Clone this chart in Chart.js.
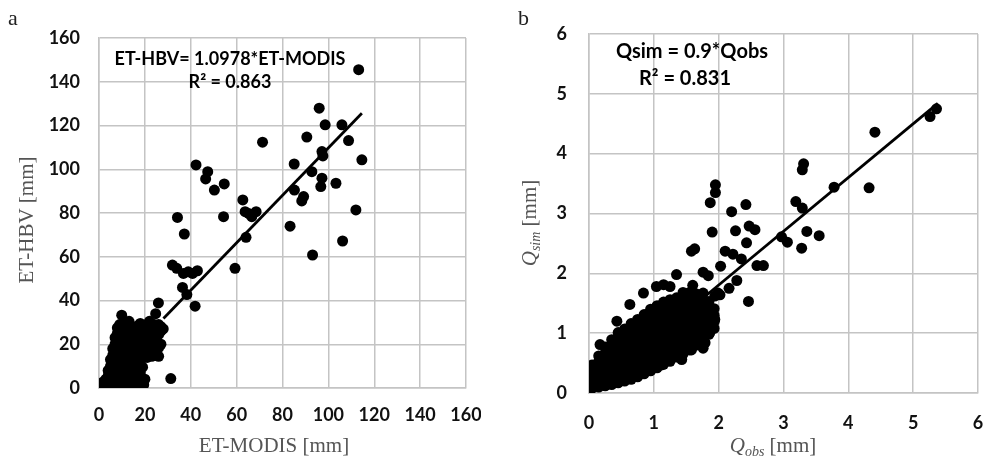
<!DOCTYPE html>
<html>
<head>
<meta charset="utf-8">
<script src="https://cdn.jsdelivr.net/npm/chart.js"></script>
<style>
  html, body { margin: 0; padding: 0; background: #fff; }
  #wrapA { position: absolute; left: 0; top: 0; }
  #wrapB { position: absolute; left: 490px; top: 0; }
</style>
</head>
<body>
<div id="wrapA"><canvas id="chartA" width="481" height="459"></canvas></div>
<div id="wrapB"><canvas id="chartB" width="496" height="459"></canvas></div>
<script>
// ---- panel a: ET-MODIS vs ET-HBV (mm) ----
var etScatter = [
  [113.2,145.5],[96,127.9],[98.6,120.3],[105.9,120.3],[108.8,113.1],[71.3,112.4],[90.6,114.7],
  [114.6,104.3],[97.6,106.1],[97.2,108.1],[85.1,102.4],[92.8,98.9],[97.2,95.9],[96.7,92.1],
  [103.3,93.6],[85.2,90.5],[89.2,87.5],[88.4,85.5],[112,81.4],[83.3,74],[106.2,67.2],[93.1,60.8],
  [42.3,102],[47.4,98.9],[46.5,95.6],[50.3,90.5],[54.6,93.3],[54.3,78.3],[34.2,78],[37.2,70.4],
  [62.7,86],[63.7,80.6],[65.2,79.8],[66.6,78.3],[68.5,80.6],[64.1,68.9],[59.3,54.7],
  [32,56.2],[33.9,54.7],[36.8,52.4],[38.9,53.1],[40.8,52.4],[42.9,53.6],[36.4,46],[38.3,42.7],
  [41.9,37.4],[31.3,4.3],[25.9,38.9],[24.7,34],[9.9,33.3],[13.1,30.5]
];
var etCluster = [
  [0.5,0.3],[1,0.5],[1.5,2.5],[2,1],[2.5,3],[3,0.5],[4,1.5],[5,0.5],[6,1],[7,0.5],[8,1.5],[9,0.8],
  [10,0.4],[11,1.2],[12,0.6],[13,1.5],[14,0.8],[15,2],[16,0.5],[17,1.2],[18,0.6],[18.5,3],[19.5,1.5],[20,4],
  [3,4],[4,5.5],[5,3.5],[6,5],[7,4],[8,6],[9,4.5],[10,5.5],[11,3.8],[12,6],[13,4.5],[14,5.8],
  [15,4],[16,6.5],[17,5],[18,7],
  [4,8],[5,10],[6,9],[7,11],[8,8.5],[9,10.5],[10,9],[11,11],[12,8],[13,10],[14,9],[15,11.5],
  [16,8.5],[17,10],[18,12],[19,9.5],
  [5,13],[6,15],[7,14],[8,16],[9,13.5],[10,15],[11,14],[12,16.5],[13,13],[14,15.5],[15,14],
  [16,16],[17,13.5],[18,15],[19,14],[20,16],[21,14],[22,15.5],[23,14.5],[24,16],[25,15],[26,14.5],
  [6,18],[7,20],[8,19],[9,21],[10,18.5],[11,20.5],[12,19],[13,21],[14,18],[15,20],[16,19],
  [17,21.5],[18,18.5],[19,20],[20,19],[21,21],[22,19.5],[23,20.5],[24,19],[25,21],[26,18.5],[27,20],
  [7,23],[8,25],[9,24],[10,26],[11,23.5],[12,25],[13,24],[14,22.5],[15,24.5],[16,23],[17,25.5],
  [18,24],[19,26],[20,23],[21,25],[22,24],[23,26],[24,23.5],[25,25],[26,24.5],[27,26],
  [8,27.5],[9,29],[11,28],[12,30],[15,27],[17,28.5],[18,29.5],[19,28],[20,27],[21,29],[22,30.5],
  [23,28],[24,29],[25,27.5],[26,29],[27,28],[28,27]
];
var etTrend = [[28.1,31.8],[114.6,125.6]];
var etTicks = { min: 0, max: 160, step: 20 };

// ---- panel b: Qobs vs Qsim (mm) ----
var qScatter = [
  [5.36,4.75],[5.26,4.62],[4.41,4.36],[4.32,3.43],[3.78,3.44],[3.31,3.83],[3.29,3.73],[3.19,3.2],
  [3.29,3.09],[3.36,2.7],[3.55,2.63],[3.28,2.42],[2.97,2.61],[3.06,2.52],[1.95,3.48],[1.95,3.35],
  [1.87,3.18],[2.42,3.15],[2.2,3.03],[1.9,2.69],[2.26,2.71],[2.47,2.79],[2.56,2.73],[2.43,2.51],
  [2.1,2.37],[2.22,2.32],[2.35,2.24],[2.03,2.12],[2.59,2.13],[2.69,2.13],[2.28,1.88],[2.16,1.75],
  [2.46,1.53],[1.58,2.37],[1.63,2.41],[1.76,2.02],[1.84,1.96],[1.35,1.98],
  [0.17,0.81],[0.43,1.2],[0.63,1.48],[0.84,1.67],[1.04,1.78],[1.15,1.81],[1.25,1.78],[1.6,1.8],
  [1.43,0.56],[1.4,0.61],[1.58,0.72],[1.76,0.75],[1.79,0.84],[1.66,0.97],[1.86,1.0],[1.81,1.14],
  [1.89,1.31],[1.94,1.23],[1.12,0.47],[1.61,1.56],[1.76,1.67],[1.94,1.62],[2.02,1.64],[1.99,1.67]
];
// dense cloud near the origin, read column by column
var qBlobObs = [0.05,0.15,0.25,0.35,0.45,0.55,0.65,0.75,0.85,0.95,1.05,1.15,1.25,1.35,1.45,1.55,1.65,1.75,1.85,1.93];
var qBlobSim = [
  [0.08,0.19,0.30,0.40,0.47],
  [0.10,0.21,0.32,0.43,0.53,0.62],
  [0.12,0.23,0.34,0.45,0.56,0.67,0.77],
  [0.14,0.25,0.36,0.47,0.58,0.69,0.80,0.89],
  [0.17,0.28,0.39,0.50,0.61,0.72,0.83,0.93,1.01],
  [0.20,0.31,0.42,0.53,0.64,0.75,0.86,0.97,1.07],
  [0.23,0.34,0.45,0.56,0.67,0.78,0.89,1.00,1.10,1.16],
  [0.27,0.38,0.49,0.60,0.71,0.82,0.93,1.04,1.14,1.23],
  [0.32,0.43,0.54,0.65,0.76,0.87,0.98,1.09,1.20,1.31],
  [0.37,0.48,0.59,0.70,0.81,0.92,1.03,1.14,1.25,1.36,1.40],
  [0.42,0.53,0.64,0.75,0.86,0.97,1.08,1.19,1.30,1.41,1.46],
  [0.48,0.59,0.70,0.81,0.92,1.03,1.14,1.25,1.36,1.47,1.52],
  [0.53,0.64,0.75,0.86,0.97,1.08,1.19,1.30,1.41,1.52,1.56],
  [0.60,0.71,0.82,0.93,1.04,1.15,1.26,1.37,1.48,1.59],
  [0.65,0.76,0.87,0.98,1.09,1.20,1.31,1.42,1.53,1.64,1.68],
  [0.72,0.83,0.94,1.05,1.16,1.27,1.38,1.49,1.60,1.68],
  [0.80,0.91,1.02,1.13,1.24,1.35,1.46,1.57,1.66],
  [0.88,0.99,1.10,1.21,1.32,1.43,1.54,1.60],
  [0.98,1.09,1.20,1.31,1.42,1.53],
  [1.08,1.19,1.30,1.41]
];
var qTrend = [[1.75,1.58],[5.38,4.84]];
var qTicks = { min: 0, max: 6, step: 1 };

var gridColor = '#c4c4c4';
var tickFont = { family: 'Lato', size: 18, weight: 'bold' };
var sansB = 'bold 18px Lato';
var serif = '21px "Liberation Serif"';
var serifI = 'italic 21px "Liberation Serif"';
var serifSub = 'italic 14px "Liberation Serif"';

function toPts(pairs) {
  return pairs.map(function (p) { return { x: p[0], y: p[1] }; });
}

// draws the free text: panel letter, fit equation, axis titles (with subscripts)
var figText = {
  id: 'figText',
  afterDraw: function (chart, args, opts) {
    var ctx = chart.ctx;
    (opts.items || []).forEach(function (it) {
      ctx.save();
      ctx.translate(it.x, it.y);
      if (it.rotate) ctx.rotate(it.rotate);
      ctx.fillStyle = it.color || '#000';
      ctx.textBaseline = 'alphabetic';
      ctx.textAlign = 'left';
      var w = 0;
      it.runs.forEach(function (r) { ctx.font = r.font; w += ctx.measureText(r.text).width; });
      var x = it.center ? -w / 2 : 0;
      it.runs.forEach(function (r) {
        ctx.font = r.font;
        ctx.fillText(r.text, x, r.dy || 0);
        x += ctx.measureText(r.text).width;
      });
      ctx.restore();
    });
  }
};

function makeChart(id, cloud, trend, ticks, box, items) {
  var ctx = document.getElementById(id).getContext('2d');
  return new Chart(ctx, {
    type: 'scatter',
    data: {
      datasets: [{
        type: 'line',
        data: toPts(trend),
        borderColor: '#000',
        borderWidth: 2.8,
        pointRadius: 0,
        fill: false,
        order: 0
      }, {
        data: cloud,
        backgroundColor: '#000',
        borderColor: '#000',
        pointRadius: 5.5,
        borderWidth: 0,
        order: 1
      }]
    },
    options: {
      responsive: false,
      animation: { duration: 0 },
      events: [],
      layout: { padding: { top: box.top, right: box.right, left: 0, bottom: 0 } },
      plugins: {
        legend: { display: false },
        tooltip: { enabled: false },
        figText: { items: items }
      },
      scales: {
        x: {
          type: 'linear', min: ticks.min, max: ticks.max,
          ticks: { stepSize: ticks.step, color: '#111', font: tickFont, padding: box.xPad, maxRotation: 0 },
          grid: { color: gridColor, lineWidth: 1.5, drawTicks: false },
          border: { color: gridColor, width: 1.5 },
          afterFit: function (s) { s.height = box.xH; s.paddingLeft = 0; s.paddingRight = 0; }
        },
        y: {
          type: 'linear', min: ticks.min, max: ticks.max,
          ticks: { stepSize: ticks.step, color: '#111', font: tickFont, padding: box.yPad },
          grid: { color: gridColor, lineWidth: 1.5, drawTicks: false },
          border: { color: gridColor, width: 1.5 },
          afterFit: function (s) { s.width = 99; s.paddingTop = 0; s.paddingBottom = 0; }
        }
      }
    },
    plugins: [figText]
  });
}

document.addEventListener('DOMContentLoaded', function () {
  var cloudA = toPts(etCluster.concat(etScatter));
  makeChart('chartA', cloudA, etTrend, etTicks,
    { top: 38, right: 15, xH: 71, xPad: 16, yPad: 19 },
    [
      { x: 8, y: 25, color: '#222', runs: [{ text: 'a', font: '22px "Liberation Serif"' }] },
      { x: 230, y: 65, center: true, runs: [{ text: 'ET-HBV= 1.0978*ET-MODIS', font: sansB }] },
      { x: 230, y: 88, center: true, runs: [{ text: 'R² = 0.863', font: sansB }] },
      { x: 274, y: 452, center: true, color: '#555', runs: [{ text: 'ET-MODIS [mm]', font: serif }] },
      { x: 33, y: 220, center: true, rotate: -Math.PI / 2, color: '#555', runs: [{ text: 'ET-HBV [mm]', font: serif }] }
    ]);

  var blob = [];
  qBlobObs.forEach(function (x, i) {
    qBlobSim[i].forEach(function (y) { blob.push([x, y]); });
  });
  var cloudB = toPts(blob.concat(qScatter));
  makeChart('chartB', cloudB, qTrend, qTicks,
    { top: 34, right: 8, xH: 66, xPad: 19, yPad: 22 },
    [
      { x: 28, y: 25, color: '#222', runs: [{ text: 'b', font: '22px "Liberation Serif"' }] },
      { x: 202, y: 58, center: true, runs: [{ text: 'Qsim = 0.9*Qobs', font: 'bold 20px Lato' }] },
      { x: 195, y: 85, center: true, runs: [{ text: 'R² = 0.831', font: 'bold 20px Lato' }] },
      { x: 283, y: 452, center: true, color: '#555', runs: [
        { text: 'Q', font: serifI }, { text: 'obs', font: serifSub, dy: 4 }, { text: ' [mm]', font: serif }] },
      { x: 46, y: 223, center: true, rotate: -Math.PI / 2, color: '#555', runs: [
        { text: 'Q', font: serifI }, { text: 'sim', font: serifSub, dy: 4 }, { text: ' [mm]', font: serif }] }
    ]);
});
</script>
</body>
</html>
